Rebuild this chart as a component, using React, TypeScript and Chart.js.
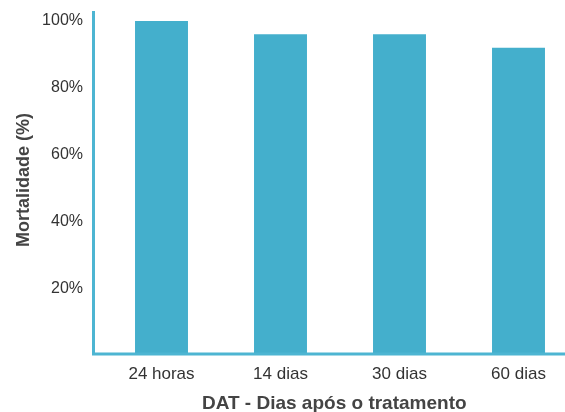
import React, { useEffect, useRef } from "react";
import { Chart, registerables } from "chart.js";

Chart.register(...registerables);

const categories = ["24 horas", "14 dias", "30 dias", "60 dias"];
const mortality = [100, 96, 96, 92];
const yTicks = [20, 40, 60, 80, 100];
const xTitle = "DAT - Dias após o tratamento";
const yTitle = "Mortalidade (%)";

const FONT = "'Liberation Sans', Arial, Helvetica, sans-serif";
const BAR = "#44afcc";
const AXIS = "#4db5d2";
const TEXT = "#333333";
const TITLE = "#444444";

export default function App() {
  const ref = useRef<HTMLCanvasElement>(null);

  useEffect(() => {
    if (!ref.current) return;

    // fit the plot area to the reference: category axis runs past the right edge,
    // and the value axis starts 21px from the top
    const layoutPlugin = {
      id: "fitArea",
      afterLayout(chart: any) {
        const extra = 13;
        const x = chart.scales.x;
        x.right += extra;
        x.width += extra;
        chart.chartArea.right += extra;
        chart.chartArea.width += extra;
        x.configure();

        const y = chart.scales.y;
        const dy = chart.chartArea.top - 21;
        y.top -= dy;
        y.height += dy;
        chart.chartArea.top -= dy;
        chart.chartArea.height += dy;
        y.configure();
      },
    };

    const axisPlugin = {
      id: "customAxes",
      afterDraw(chart: any) {
        const { ctx, chartArea, width } = chart;
        const axisX = chartArea.left - 8.5;
        const baseY = chartArea.bottom - 1;
        ctx.save();
        ctx.strokeStyle = AXIS;
        ctx.lineWidth = 3;
        ctx.beginPath();
        ctx.moveTo(axisX, chartArea.top - 10);
        ctx.lineTo(axisX, baseY + 1.5);
        ctx.moveTo(axisX - 1.5, baseY);
        ctx.lineTo(width, baseY);
        ctx.stroke();

        ctx.fillStyle = TITLE;
        ctx.font = `bold 19px ${FONT}`;
        ctx.textAlign = "center";
        ctx.textBaseline = "middle";
        ctx.fillText(xTitle, (axisX + width) / 2 + 5, 404);

        ctx.font = `bold 18px ${FONT}`;
        ctx.translate(24, 180);
        ctx.rotate(-Math.PI / 2);
        ctx.fillText(yTitle, 0, 0);
        ctx.restore();
      },
    };

    const chart = new Chart(ref.current, {
      type: "bar",
      data: {
        labels: categories,
        datasets: [
          {
            data: mortality,
            backgroundColor: BAR,
            borderWidth: 0,
            categoryPercentage: 1,
            barPercentage: 0.445,
          },
        ],
      },
      options: {
        animation: false,
        responsive: true,
        maintainAspectRatio: false,
        layout: { padding: { top: 13, right: 0, left: 0, bottom: 0 } },
        plugins: {
          legend: { display: false },
          tooltip: { enabled: false },
          title: { display: false },
        },
        scales: {
          x: {
            grid: { display: false, drawTicks: false },
            border: { display: false },
            ticks: {
              color: TEXT,
              font: { family: FONT, size: 17 },
              padding: 9,
            },
            afterFit(scale: any) {
              scale.height = 57;
            },
          },
          y: {
            min: 0,
            max: 100,
            grid: { display: false, drawTicks: false },
            border: { display: false },
            afterBuildTicks(scale: any) {
              scale.ticks = yTicks.map((v) => ({ value: v }));
            },
            ticks: {
              color: TEXT,
              font: { family: FONT, size: 16 },
              padding: 19,
              callback: (v: any) => `${v}%`,
            },
            afterFit(scale: any) {
              scale.width = 102;
            },
          },
        },
      },
      plugins: [layoutPlugin, axisPlugin],
    });

    return () => chart.destroy();
  }, []);

  return (
    <div style={{ position: "fixed", left: 0, top: 0, width: 565, height: 412, background: "#fff" }}>
      <canvas ref={ref} />
    </div>
  );
}
